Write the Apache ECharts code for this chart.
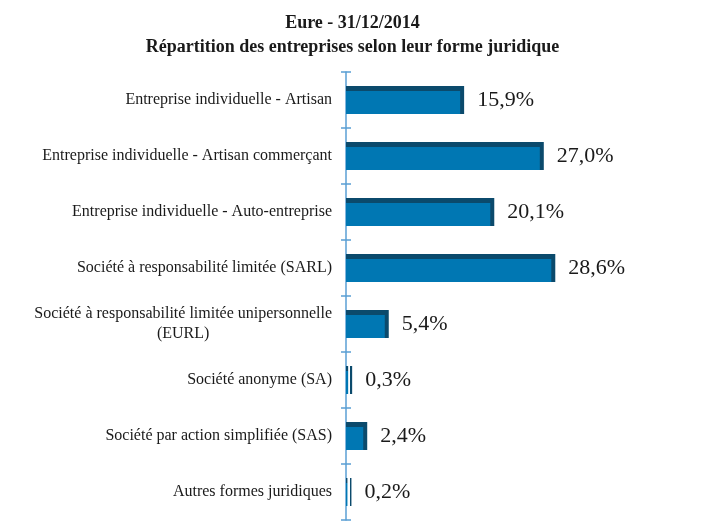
<!DOCTYPE html>
<html>
<head>
<meta charset="utf-8">
<script src="https://cdn.jsdelivr.net/npm/echarts@6/dist/echarts.min.js"></script>
<style>
  html, body { margin: 0; padding: 0; background: #fff; }
  #main { width: 705px; height: 524px; }
</style>
</head>
<body>
<div id="main"></div>
<script>
// categories and values (%), top to bottom
var categories = [
  'Entreprise individuelle - Artisan',
  'Entreprise individuelle - Artisan commerçant',
  'Entreprise individuelle - Auto-entreprise',
  'Société à responsabilité limitée (SARL)',
  'Société à responsabilité limitée unipersonnelle\n(EURL)',
  'Société anonyme (SA)',
  'Société par action simplifiée (SAS)',
  'Autres formes juridiques'
];
var values = [15.9, 27.0, 20.1, 28.6, 5.4, 0.3, 2.4, 0.2];

var serif = '"Liberation Serif", "DejaVu Serif", serif';
var axisBlue = '#5a9fd4';
var dark = '#0b4a6c';
var light = '#0077b3';

var myChart = echarts.init(document.getElementById('main'));
var option = {
  backgroundColor: '#fff',
  title: {
    text: 'Eure - 31/12/2014\nRépartition des entreprises selon leur forme juridique',
    left: 'center',
    top: 6,
    textStyle: {
      fontFamily: serif,
      fontSize: 18,
      fontWeight: 'bold',
      color: '#1a1a1a',
      lineHeight: 24
    }
  },
  grid: { left: 346, right: 36, top: 72, bottom: 4 },
  xAxis: {
    type: 'value',
    min: 0,
    max: 45,
    show: false
  },
  yAxis: [{
    type: 'category',
    data: categories,
    inverse: true,
    axisLine: { show: true, lineStyle: { color: axisBlue, width: 1.5 } },
    axisTick: { show: true, length: 5, lineStyle: { color: axisBlue, width: 1.5 } },
    axisLabel: {
      margin: 14,
      fontFamily: serif,
      fontSize: 16,
      color: '#1a1a1a',
      formatter: function (v) {
        return v.split('\n').map(function (s) { return '{c|' + s + '}'; }).join('\n');
      },
      rich: {
        c: { align: 'center', fontFamily: serif, fontSize: 16, color: '#1a1a1a', lineHeight: 20 }
      }
    }
  }, {
    type: 'category',
    data: categories,
    inverse: true,
    position: 'left',
    axisLine: { show: false },
    axisTick: { show: true, inside: true, length: 5, lineStyle: { color: axisBlue, width: 1.5 } },
    axisLabel: { show: false }
  }],
  series: [{
    type: 'bar',
    data: values,
    barWidth: 28,
    itemStyle: {
      // dark band on top, dark edge on the right via shadow
      color: new echarts.graphic.LinearGradient(0, 0, 0, 1, [
        { offset: 0, color: dark },
        { offset: 0.18, color: dark },
        { offset: 0.18, color: light },
        { offset: 1, color: light }
      ]),
      shadowColor: dark,
      shadowBlur: 0,
      shadowOffsetX: 4,
      shadowOffsetY: 0
    },
    label: {
      show: true,
      position: 'right',
      distance: 17,
      fontFamily: serif,
      fontSize: 22,
      color: '#1a1a1a',
      formatter: function (p) {
        return p.value.toFixed(1).replace('.', ',') + '%';
      }
    },
    z: 3
  }]
};
myChart.setOption(option, true);
window.onresize = function () { myChart.resize(); };
</script>
</body>
</html>
